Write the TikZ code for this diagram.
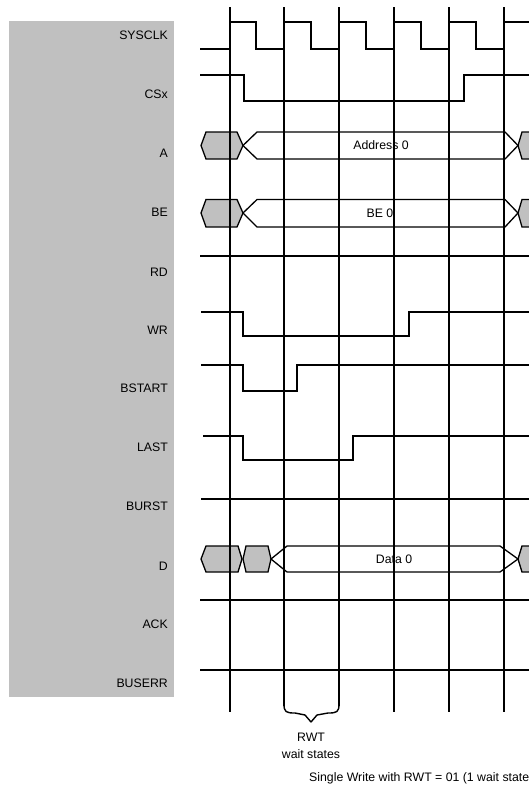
\documentclass[tikz,border=0pt]{standalone}
\usepackage{fontspec}
\setmainfont{Liberation Sans}
\definecolor{panel}{HTML}{C0C0C0}
\definecolor{busgray}{HTML}{C0C0C0}
\begin{document}
\begin{tikzpicture}[x=1pt,y=-1pt,
  sig/.style={line width=1.4pt, line join=miter},
  busg/.style={draw=black, fill=busgray, line width=1.3pt, line join=miter},
  busw/.style={draw=black, fill=white, line width=1.3pt, line join=miter},
  lbl/.style={anchor=east, font=\fontsize{12.3}{14}\selectfont, inner sep=0pt},
  txt/.style={font=\fontsize{12.3}{14}\selectfont, inner sep=0pt},
  edgeline/.style={line width=2pt}]
\useasboundingbox (0,0) rectangle (529,807);
\fill[panel] (9,21) rectangle (174,697);

% signal names
\node[lbl] (lsysclk) at (168,35) {SYSCLK};
\node[lbl] (lcsx) at (168,94) {CSx};
\node[lbl] (la) at (168,153) {A};
\node[lbl] (lbe) at (168,212) {BE};
\node[lbl] (lrd) at (168,272) {RD};
\node[lbl] (lwr) at (168,330) {WR};
\node[lbl] (lbstart) at (168,388) {BSTART};
\node[lbl] (llast) at (168,447) {LAST};
\node[lbl] (lburst) at (168,506) {BURST};
\node[lbl] (ld) at (168,566) {D};
\node[lbl] (lack) at (168,624) {ACK};
\node[lbl] (lbuserr) at (168,683) {BUSERR};

% SYSCLK
\draw[sig] (200,49) -- (229.5,49) -- (229.5,22) -- (256,22) -- (256,49) -- (284,49) -- (284,22) -- (311,22) -- (311,49) -- (339,49) -- (339,22) -- (366,22) -- (366,49) -- (394,49) -- (394,22) -- (421,22) -- (421,49) -- (449,49) -- (449,22) -- (476,22) -- (476,49) -- (504,49) -- (504,22) -- (529,22);
% CSx
\draw[sig] (200,75) -- (244,75) -- (244,101) -- (464,101) -- (464,75) -- (529,75);
% RD
\draw[sig] (200,256) -- (529,256);
% WR
\draw[sig] (201,312) -- (243,312) -- (243,336) -- (409,336) -- (409,312) -- (529,312);
% BSTART
\draw[sig] (201,365) -- (243,365) -- (243,391) -- (297,391) -- (297,365) -- (529,365);
% LAST
\draw[sig] (203,436) -- (243,436) -- (243,460) -- (353,460) -- (353,436) -- (529,436);
% BURST, ACK, BUSERR
\draw[sig] (201,499) -- (529,499);
\draw[sig] (200,600) -- (529,600);
\draw[sig] (200,670) -- (529,670);

% A bus
\draw[busg] (201,145.5) -- (206,132) -- (237,132) -- (243,145.5) -- (237,159) -- (206,159) -- cycle;
\draw[busw] (243,145.5) -- (257,132) -- (505,132) -- (518,145.5) -- (505,159) -- (257,159) -- cycle;
\fill[busgray] (518,145.5) -- (522,132) -- (529,132) -- (529,159) -- (522,159) -- cycle;
\draw[sig, line width=1.3pt] (529,132) -- (522,132) -- (518,145.5) -- (522,159) -- (529,159);
\node[txt] (ta) at (381,145.5) {Address 0};

% BE bus
\draw[busg] (201,213) -- (206,199.5) -- (237,199.5) -- (243,213) -- (237,227) -- (206,227) -- cycle;
\draw[busw] (243,213) -- (257,199.5) -- (505,199.5) -- (518,213) -- (505,227) -- (257,227) -- cycle;
\fill[busgray] (518,213) -- (522,199.5) -- (529,199.5) -- (529,227) -- (522,227) -- cycle;
\draw[sig, line width=1.3pt] (529,199.5) -- (522,199.5) -- (518,213) -- (522,227) -- (529,227);
\node[txt] (tbe) at (380,213) {BE 0};

% D bus
\draw[busg] (201,559) -- (206,546) -- (238,546) -- (242,559) -- (238,572) -- (206,572) -- cycle;
\draw[busg] (243,559) -- (246,546) -- (268,546) -- (271,559) -- (268,572) -- (246,572) -- cycle;
\draw[busw] (271,559) -- (287,546) -- (500,546) -- (518,559) -- (500,572) -- (287,572) -- cycle;
\fill[busgray] (518,559) -- (522,546) -- (529,546) -- (529,572) -- (522,572) -- cycle;
\draw[sig, line width=1.3pt] (529,546) -- (522,546) -- (518,559) -- (522,572) -- (529,572);
\node[txt] (td) at (394,559) {Data 0};

% clock edge lines
\foreach \x/\yb in {229.5/712, 284/706, 339/706, 394/712, 449/712} {
  \draw[edgeline] (\x,7) -- (\x,\yb);
}
\draw[edgeline, line width=2.5pt] (504,7) -- (504,712);

% brace
\draw[line width=1.4pt, line join=round] (284,704) .. controls (284,712) and (286,713) .. (295,713) -- (305,715) -- (311,722) -- (317,715) -- (328,713) .. controls (337,713) and (339,712) .. (339,704);

\node[txt] (trwt) at (311,737) {RWT};
\node[txt] (twait) at (311,754) {wait states};
\node[txt, anchor=west] (tcap) at (309,778) {Single Write with RWT = 01 (1 wait state};
\end{tikzpicture}
\end{document}
